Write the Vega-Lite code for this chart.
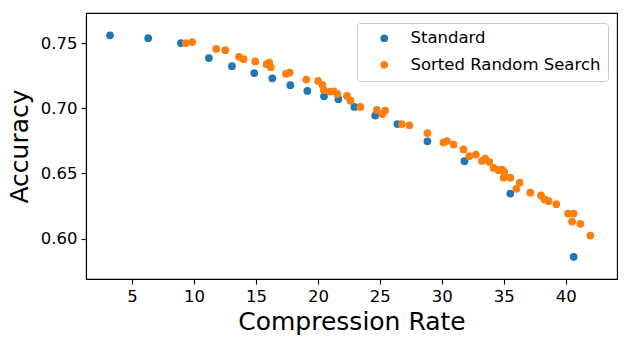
{
  "$schema": "https://vega.github.io/schema/vega-lite/v6.json",
  "width": 531,
  "height": 266,
  "autosize": {"type": "none"},
  "padding": {"left": 86, "top": 13, "right": 13, "bottom": 67},
  "background": "white",
  "config": {
    "font": "DejaVu Sans",
    "view": {"stroke": "black", "strokeWidth": 1.1},
    "axis": {
      "grid": false,
      "domainColor": "black",
      "domainWidth": 1.1,
      "tickColor": "black",
      "tickWidth": 1.1,
      "tickSize": 5,
      "labelPadding": 4,
      "labelFontSize": 16.5,
      "labelColor": "black",
      "labelFont": "DejaVu Sans",
      "titleFont": "DejaVu Sans",
      "titleFontSize": 25,
      "titleFontWeight": "normal",
      "titleColor": "black"
    }
  },
  "data": {
    "values": [
      {"rate": 3.22, "acc": 0.756, "method": "Standard"},
      {"rate": 6.30, "acc": 0.7538, "method": "Standard"},
      {"rate": 8.94, "acc": 0.750, "method": "Standard"},
      {"rate": 11.20, "acc": 0.7385, "method": "Standard"},
      {"rate": 13.06, "acc": 0.7323, "method": "Standard"},
      {"rate": 14.86, "acc": 0.727, "method": "Standard"},
      {"rate": 16.32, "acc": 0.723, "method": "Standard"},
      {"rate": 17.77, "acc": 0.7177, "method": "Standard"},
      {"rate": 19.15, "acc": 0.7133, "method": "Standard"},
      {"rate": 20.49, "acc": 0.7092, "method": "Standard"},
      {"rate": 21.65, "acc": 0.707, "method": "Standard"},
      {"rate": 22.94, "acc": 0.701, "method": "Standard"},
      {"rate": 24.62, "acc": 0.6944, "method": "Standard"},
      {"rate": 26.42, "acc": 0.6879, "method": "Standard"},
      {"rate": 28.84, "acc": 0.6746, "method": "Standard"},
      {"rate": 31.83, "acc": 0.6594, "method": "Standard"},
      {"rate": 35.53, "acc": 0.6346, "method": "Standard"},
      {"rate": 40.64, "acc": 0.586, "method": "Standard"},
      {"rate": 9.34, "acc": 0.750, "method": "Sorted Random Search"},
      {"rate": 9.85, "acc": 0.7508, "method": "Sorted Random Search"},
      {"rate": 11.79, "acc": 0.7456, "method": "Sorted Random Search"},
      {"rate": 12.52, "acc": 0.7446, "method": "Sorted Random Search"},
      {"rate": 13.63, "acc": 0.7395, "method": "Sorted Random Search"},
      {"rate": 14.0, "acc": 0.7377, "method": "Sorted Random Search"},
      {"rate": 14.94, "acc": 0.7359, "method": "Sorted Random Search"},
      {"rate": 15.86, "acc": 0.7338, "method": "Sorted Random Search"},
      {"rate": 16.07, "acc": 0.735, "method": "Sorted Random Search"},
      {"rate": 16.19, "acc": 0.7315, "method": "Sorted Random Search"},
      {"rate": 17.42, "acc": 0.7264, "method": "Sorted Random Search"},
      {"rate": 17.72, "acc": 0.7274, "method": "Sorted Random Search"},
      {"rate": 19.06, "acc": 0.722, "method": "Sorted Random Search"},
      {"rate": 20.01, "acc": 0.721, "method": "Sorted Random Search"},
      {"rate": 20.36, "acc": 0.718, "method": "Sorted Random Search"},
      {"rate": 20.47, "acc": 0.714, "method": "Sorted Random Search"},
      {"rate": 20.98, "acc": 0.7128, "method": "Sorted Random Search"},
      {"rate": 21.28, "acc": 0.713, "method": "Sorted Random Search"},
      {"rate": 21.57, "acc": 0.711, "method": "Sorted Random Search"},
      {"rate": 22.35, "acc": 0.7095, "method": "Sorted Random Search"},
      {"rate": 22.62, "acc": 0.7058, "method": "Sorted Random Search"},
      {"rate": 23.43, "acc": 0.701, "method": "Sorted Random Search"},
      {"rate": 24.75, "acc": 0.6987, "method": "Sorted Random Search"},
      {"rate": 25.2, "acc": 0.6956, "method": "Sorted Random Search"},
      {"rate": 25.42, "acc": 0.6982, "method": "Sorted Random Search"},
      {"rate": 26.77, "acc": 0.6879, "method": "Sorted Random Search"},
      {"rate": 27.39, "acc": 0.6869, "method": "Sorted Random Search"},
      {"rate": 28.84, "acc": 0.681, "method": "Sorted Random Search"},
      {"rate": 30.14, "acc": 0.6738, "method": "Sorted Random Search"},
      {"rate": 30.41, "acc": 0.6748, "method": "Sorted Random Search"},
      {"rate": 30.95, "acc": 0.6722, "method": "Sorted Random Search"},
      {"rate": 31.75, "acc": 0.6684, "method": "Sorted Random Search"},
      {"rate": 32.21, "acc": 0.6632, "method": "Sorted Random Search"},
      {"rate": 32.75, "acc": 0.6645, "method": "Sorted Random Search"},
      {"rate": 33.24, "acc": 0.6596, "method": "Sorted Random Search"},
      {"rate": 33.5, "acc": 0.6614, "method": "Sorted Random Search"},
      {"rate": 33.83, "acc": 0.6588, "method": "Sorted Random Search"},
      {"rate": 34.18, "acc": 0.6542, "method": "Sorted Random Search"},
      {"rate": 34.58, "acc": 0.6525, "method": "Sorted Random Search"},
      {"rate": 34.86, "acc": 0.653, "method": "Sorted Random Search"},
      {"rate": 35.04, "acc": 0.6512, "method": "Sorted Random Search"},
      {"rate": 34.99, "acc": 0.6467, "method": "Sorted Random Search"},
      {"rate": 35.53, "acc": 0.6467, "method": "Sorted Random Search"},
      {"rate": 36.01, "acc": 0.6382, "method": "Sorted Random Search"},
      {"rate": 36.28, "acc": 0.6429, "method": "Sorted Random Search"},
      {"rate": 37.14, "acc": 0.6352, "method": "Sorted Random Search"},
      {"rate": 38.01, "acc": 0.6331, "method": "Sorted Random Search"},
      {"rate": 38.3, "acc": 0.63, "method": "Sorted Random Search"},
      {"rate": 38.62, "acc": 0.6287, "method": "Sorted Random Search"},
      {"rate": 39.24, "acc": 0.6264, "method": "Sorted Random Search"},
      {"rate": 40.19, "acc": 0.6192, "method": "Sorted Random Search"},
      {"rate": 40.64, "acc": 0.6192, "method": "Sorted Random Search"},
      {"rate": 40.51, "acc": 0.6131, "method": "Sorted Random Search"},
      {"rate": 41.18, "acc": 0.6113, "method": "Sorted Random Search"},
      {"rate": 41.99, "acc": 0.6023, "method": "Sorted Random Search"}
    ]
  },
  "mark": {"type": "circle", "size": 60, "opacity": 1},
  "encoding": {
    "x": {
      "field": "rate",
      "type": "quantitative",
      "title": "Compression Rate",
      "scale": {"domain": [1.28, 44.14], "nice": false, "zero": false},
      "axis": {"values": [5, 10, 15, 20, 25, 30, 35, 40], "titlePadding": 5}
    },
    "y": {
      "field": "acc",
      "type": "quantitative",
      "title": "Accuracy",
      "scale": {"domain": [0.569, 0.7731], "nice": false, "zero": false},
      "axis": {"values": [0.6, 0.65, 0.7, 0.75], "format": ".2f", "titlePadding": 8}
    },
    "color": {
      "field": "method",
      "type": "nominal",
      "title": null,
      "sort": ["Standard", "Sorted Random Search"],
      "scale": {"domain": ["Standard", "Sorted Random Search"], "range": ["#1f77b4", "#ff7f0e"]},
      "legend": {
        "orient": "none",
        "legendX": 271,
        "legendY": 10,
        "padding": 7,
        "strokeColor": "#cccccc",
        "fillColor": "rgba(255,255,255,0.8)",
        "cornerRadius": 3,
        "symbolType": "circle",
        "symbolSize": 60,
        "symbolOffset": 12,
        "symbolStrokeWidth": 0,
        "labelOffset": 18,
        "labelFontSize": 16.5,
        "labelFont": "DejaVu Sans",
        "labelColor": "black",
        "rowPadding": 9.5,
        "labelLimit": 400
      }
    },
    "order": {"field": "method", "sort": "descending"}
  }
}
